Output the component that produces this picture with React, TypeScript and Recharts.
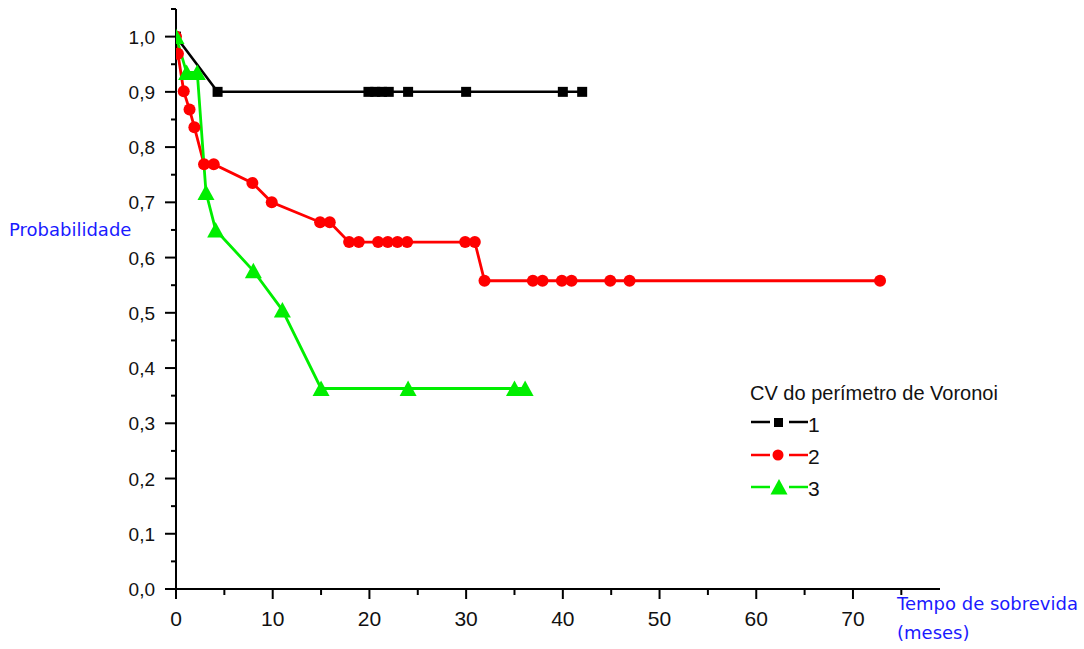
import React from 'react';
import { LineChart, Line, XAxis, YAxis, Legend, Label } from 'recharts';

// grupo 1 (CV baixo)
const tempo1 = [0, 4.3, 19.9, 20.6, 21.3, 22, 24, 30, 40, 42];
const prob1 = [1, 0.9, 0.9, 0.9, 0.9, 0.9, 0.9, 0.9, 0.9, 0.9];

// grupo 2
const tempo2 = [0, 0.2, 0.8, 1.4, 1.9, 2.9, 3.9, 7.9, 9.9, 14.9, 15.9, 17.9, 18.9, 20.9, 21.9, 22.9, 23.9, 29.9, 30.9, 31.9, 36.9, 37.9, 39.9, 40.9, 44.9, 46.9, 72.8];
const prob2 = [1, 0.969, 0.901, 0.868, 0.836, 0.769, 0.769, 0.735, 0.7, 0.664, 0.664, 0.628, 0.628, 0.628, 0.628, 0.628, 0.628, 0.628, 0.628, 0.558, 0.558, 0.558, 0.558, 0.558, 0.558, 0.558, 0.558];

// grupo 3
const tempo3 = [0, 1.1, 2.2, 3.1, 4.1, 8, 11, 15, 24, 35, 36.1];
const prob3 = [1, 0.935, 0.935, 0.718, 0.65, 0.576, 0.505, 0.363, 0.363, 0.363, 0.363];

const xTicks = [0, 5, 10, 15, 20, 25, 30, 35, 40, 45, 50, 55, 60, 65, 70, 75];
const yTicks = [0, 0.05, 0.1, 0.15, 0.2, 0.25, 0.3, 0.35, 0.4, 0.45, 0.5, 0.55, 0.6, 0.65, 0.7, 0.75, 0.8, 0.85, 0.9, 0.95, 1, 1.05];

const legendTitle = 'CV do perímetro de Voronoi';
const seriesNames = ['1', '2', '3'];

const FONT = '"Liberation Sans", Arial, sans-serif';
const BLUE_FONT = '"DejaVu Sans", Verdana, sans-serif';
const BLUE = '#1a1aff';
const GREEN = '#00ee00';

const toRows = (t: number[], p: number[]) => t.map((v, i) => ({ t: v, p: p[i] }));
const data1 = toRows(tempo1, prob1);
const data2 = toRows(tempo2, prob2);
const data3 = toRows(tempo3, prob3);

const YTick = (props: any) => {
  const { x, y, payload } = props;
  const v = payload.value;
  const major = Math.abs(v * 10 - Math.round(v * 10)) < 1e-6;
  return (
    <g>
      <line x1={x - (major ? 11 : 5)} x2={x} y1={y} y2={y} stroke="#000" strokeWidth={2} />
      {major && (
        <text x={x - 21} y={y + 7} textAnchor="end" fontSize={19} fontFamily={FONT} fill="#111">
          {v.toFixed(1).replace('.', ',')}
        </text>
      )}
    </g>
  );
};

const XTick = (props: any) => {
  const { x, y, payload } = props;
  const major = payload.value % 10 === 0;
  return (
    <g>
      <line x1={x} x2={x} y1={y} y2={y + (major ? 10 : 6)} stroke="#000" strokeWidth={2} />
      {major && (
        <text x={x} y={y + 37} textAnchor="middle" fontSize={21} fontFamily={FONT} fill="#111">
          {payload.value}
        </text>
      )}
    </g>
  );
};

const SquareDot = (props: any) => {
  const { cx, cy, index } = props;
  return <rect key={'s' + index} x={cx - 5} y={cy - 5} width={10} height={10} fill="#000" />;
};

const CircleDot = (props: any) => {
  const { cx, cy, index } = props;
  return <circle key={'c' + index} cx={cx} cy={cy} r={6} fill="#ff0000" />;
};

const TriangleDot = (props: any) => {
  const { cx, cy, index } = props;
  return (
    <polygon
      key={'t' + index}
      points={`${cx},${cy - 8} ${cx + 8.5},${cy + 7.5} ${cx - 8.5},${cy + 7.5}`}
      fill={GREEN}
    />
  );
};

const LegendBox = () => (
  <svg width={300} height={140}>
    <text x={20} y={30} fontSize={20} fontFamily={FONT} fill="#111">{legendTitle}</text>
    <g>
      <line x1={21} x2={40} y1={52} y2={52} stroke="#000" strokeWidth={2.5} />
      <rect x={44} y={48} width={9} height={9} fill="#000" />
      <line x1={59} x2={78} y1={52} y2={52} stroke="#000" strokeWidth={2.5} />
      <text x={78} y={62} fontSize={21} fontFamily={FONT} fill="#111">{seriesNames[0]}</text>
    </g>
    <g>
      <line x1={21} x2={40} y1={85} y2={85} stroke="#ff0000" strokeWidth={2.5} />
      <circle cx={48} cy={85} r={5.5} fill="#ff0000" />
      <line x1={59} x2={78} y1={85} y2={85} stroke="#ff0000" strokeWidth={2.5} />
      <text x={78} y={94} fontSize={21} fontFamily={FONT} fill="#111">{seriesNames[1]}</text>
    </g>
    <g>
      <line x1={21} x2={40} y1={117} y2={117} stroke={GREEN} strokeWidth={2.5} />
      <polygon points="49,109 57.5,124.5 40.5,124.5" fill={GREEN} />
      <line x1={59} x2={78} y1={117} y2={117} stroke={GREEN} strokeWidth={2.5} />
      <text x={78} y={126} fontSize={21} fontFamily={FONT} fill="#111">{seriesNames[2]}</text>
    </g>
  </svg>
);

const App = () => {
  return (
    <div style={{ position: 'absolute', left: 0, top: 0, width: 1084, height: 649, background: '#fff' }}>
      <LineChart width={1084} height={649} margin={{ top: 9, right: 144, left: 0, bottom: 0 }}>
        <XAxis
          dataKey="t"
          type="number"
          domain={[0, 79]}
          ticks={xTicks}
          interval={0}
          height={60}
          tickSize={0}
          tickMargin={0}
          tickLine={false}
          axisLine={{ stroke: '#000', strokeWidth: 2 }}
          tick={<XTick />}
          allowDataOverflow
        >
          <Label
            content={(p: any) => {
              const vb = p.viewBox;
              return (
                <text fontSize={18} fontFamily={BLUE_FONT} fill={BLUE}>
                  <tspan x={vb.x + 721} y={vb.y + 21}>Tempo de sobrevida</tspan>
                  <tspan x={vb.x + 721} y={vb.y + 50}>(meses)</tspan>
                </text>
              );
            }}
          />
        </XAxis>
        <YAxis
          type="number"
          domain={[0, 1.05]}
          ticks={yTicks}
          interval={0}
          width={176}
          tickSize={0}
          tickMargin={0}
          tickLine={false}
          axisLine={{ stroke: '#000', strokeWidth: 2 }}
          tick={<YTick />}
          allowDataOverflow
        >
          <Label
            content={(p: any) => {
              const vb = p.viewBox;
              return (
                <text x={vb.x + 9} y={vb.y + 227} fontSize={18} fontFamily={BLUE_FONT} fill={BLUE}>
                  Probabilidade
                </text>
              );
            }}
          />
        </YAxis>
        <Legend
          layout="vertical"
          align="center"
          verticalAlign="middle"
          wrapperStyle={{ left: 730, top: 370, width: 300, height: 140 }}
          content={() => <LegendBox />}
        />
        <Line data={data1} dataKey="p" name={seriesNames[0]} type="linear" stroke="#000" strokeWidth={2.5} dot={SquareDot} activeDot={false} isAnimationActive={false} />
        <Line data={data2} dataKey="p" name={seriesNames[1]} type="linear" stroke="#ff0000" strokeWidth={2.8} dot={CircleDot} activeDot={false} isAnimationActive={false} />
        <Line data={data3} dataKey="p" name={seriesNames[2]} type="linear" stroke={GREEN} strokeWidth={2.8} dot={TriangleDot} activeDot={false} isAnimationActive={false} />
      </LineChart>
    </div>
  );
};

export default App;
